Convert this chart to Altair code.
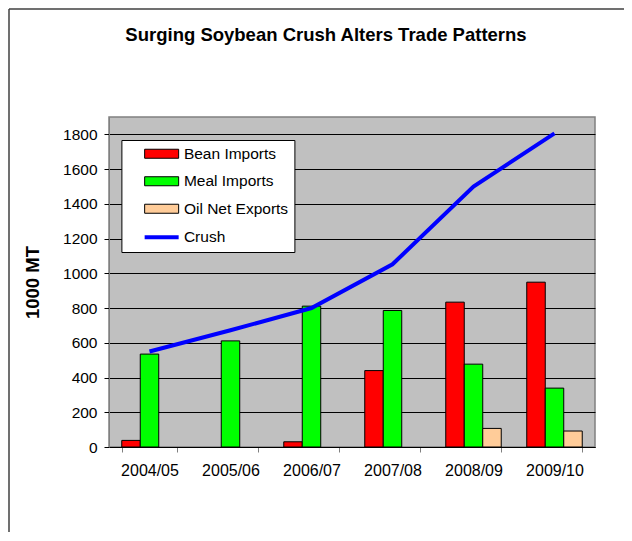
import altair as alt
import pandas as pd

# ---- data ----
years = ["2004/05", "2005/06", "2006/07", "2007/08", "2008/09", "2009/10"]
bean_imports = [38, None, 30, 440, 834, 949]
meal_imports = [535, 611, 811, 786, 477, 339]
oil_net_exports = [None, None, None, None, 107, 92]
crush = [550, 672, 800, 1052, 1499, 1806]

bar_series = ["Bean Imports", "Meal Imports", "Oil Net Exports"]
bar_colors = ["#FF0000", "#00FF00", "#FFCC99"]
line_series = ["Crush"]
line_colors = ["#0000FF"]
y_ticks = [0, 200, 400, 600, 800, 1000, 1200, 1400, 1600, 1800]

chart_title = "Surging Soybean Crush Alters Trade Patterns"
y_title = "1000 MT"
FONT = "Liberation Sans"

# ---- tables ----
rows = []
for s, vals in zip(bar_series, [bean_imports, meal_imports, oil_net_exports]):
    for yr, v in zip(years, vals):
        if v is not None:
            rows.append({"year": yr, "series": s, "value": v})
bars_df = pd.DataFrame(rows)
crush_df = pd.DataFrame({"year": years, "series": line_series[0], "value": crush})
one_df = pd.DataFrame({"k": [0]})

x_enc = alt.X(
    "year:N",
    sort=years,
    scale=alt.Scale(paddingInner=0.315, paddingOuter=0.1575),
    axis=alt.Axis(
        title=None, labelAngle=0, tickBand="extent", ticks=True, tickSize=5,
        tickColor="#808080", domainColor="black", labelFontSize=16,
        labelFont=FONT, labelColor="black", labelPadding=10, grid=False,
    ),
)
y_enc = alt.Y(
    "value:Q",
    scale=alt.Scale(domain=[0, 1900], nice=False),
    axis=alt.Axis(
        values=y_ticks, format="d", title=y_title, grid=True, gridColor="black",
        gridWidth=1, tickColor="black", tickSize=5, domainColor="#808080",
        labelFontSize=15.5, labelFont=FONT, labelColor="black", labelPadding=7,
        titleFont=FONT, titleFontSize=18.5, titleFontWeight="bold",
        titleColor="black", titlePadding=20,
    ),
)

is_crush = "datum.value == 'Crush'"

bars = alt.Chart(bars_df).mark_bar(stroke="black", strokeWidth=1).encode(
    x=x_enc,
    y=y_enc,
    xOffset=alt.XOffset("series:N", sort=bar_series,
                        scale=alt.Scale(domain=bar_series, paddingInner=0, paddingOuter=0)),
    fill=alt.Fill(
        "series:N",
        scale=alt.Scale(domain=bar_series + line_series, range=bar_colors + line_colors),
        legend=alt.Legend(
            title=None, orient="none", legendX=12.4, legendY=23,
            fillColor="white", strokeColor="black", padding=6,
            symbolType=alt.ExprRef(f"{is_crush} ? 'M-2,0H2' : 'M-2,-0.53H2V0.53H-2Z'"),
            symbolSize=289,
            symbolStrokeColor=alt.ExprRef(f"{is_crush} ? '#0000FF' : 'black'"),
            symbolStrokeWidth=alt.ExprRef(f"{is_crush} ? 4 : 1"),
            symbolOffset=26.5, labelOffset=14.5,
            labelExpr="datum.label + '\u00a0\u00a0\u00a0'",
            labelFont=FONT, labelFontSize=15.5, labelColor="black",
            rowPadding=10.5,
        ),
    ),
)

line = alt.Chart(crush_df).mark_line(strokeWidth=4, color=line_colors[0]).encode(
    x=x_enc,
    y=y_enc,
)

title_mark = alt.Chart(one_df).mark_text(
    font=FONT, fontSize=18.5, fontWeight="bold", color="black",
    align="center", baseline="alphabetic",
).encode(x=alt.value(217), y=alt.value(-76), text=alt.value(chart_title))

frame_left = alt.Chart(one_df).mark_rule(color="#404040", strokeWidth=1.5).encode(
    x=alt.value(-100), y=alt.value(-108), y2=alt.value(460)
)
frame_top = alt.Chart(one_df).mark_rule(color="#404040", strokeWidth=1.5).encode(
    x=alt.value(-100), x2=alt.value(560), y=alt.value(-108)
)

chart = alt.layer(bars, line, title_mark, frame_left, frame_top).properties(
    width=486,
    height=330,
    autosize=alt.AutoSizeParams(type="none"),
    padding={"left": 101, "top": 109, "right": 29, "bottom": 85},
    background="white",
).configure_view(
    fill="#C0C0C0", stroke="#808080", strokeWidth=1.5
)

chart.save("out.html", embed_options={"renderer": "svg", "actions": False})
